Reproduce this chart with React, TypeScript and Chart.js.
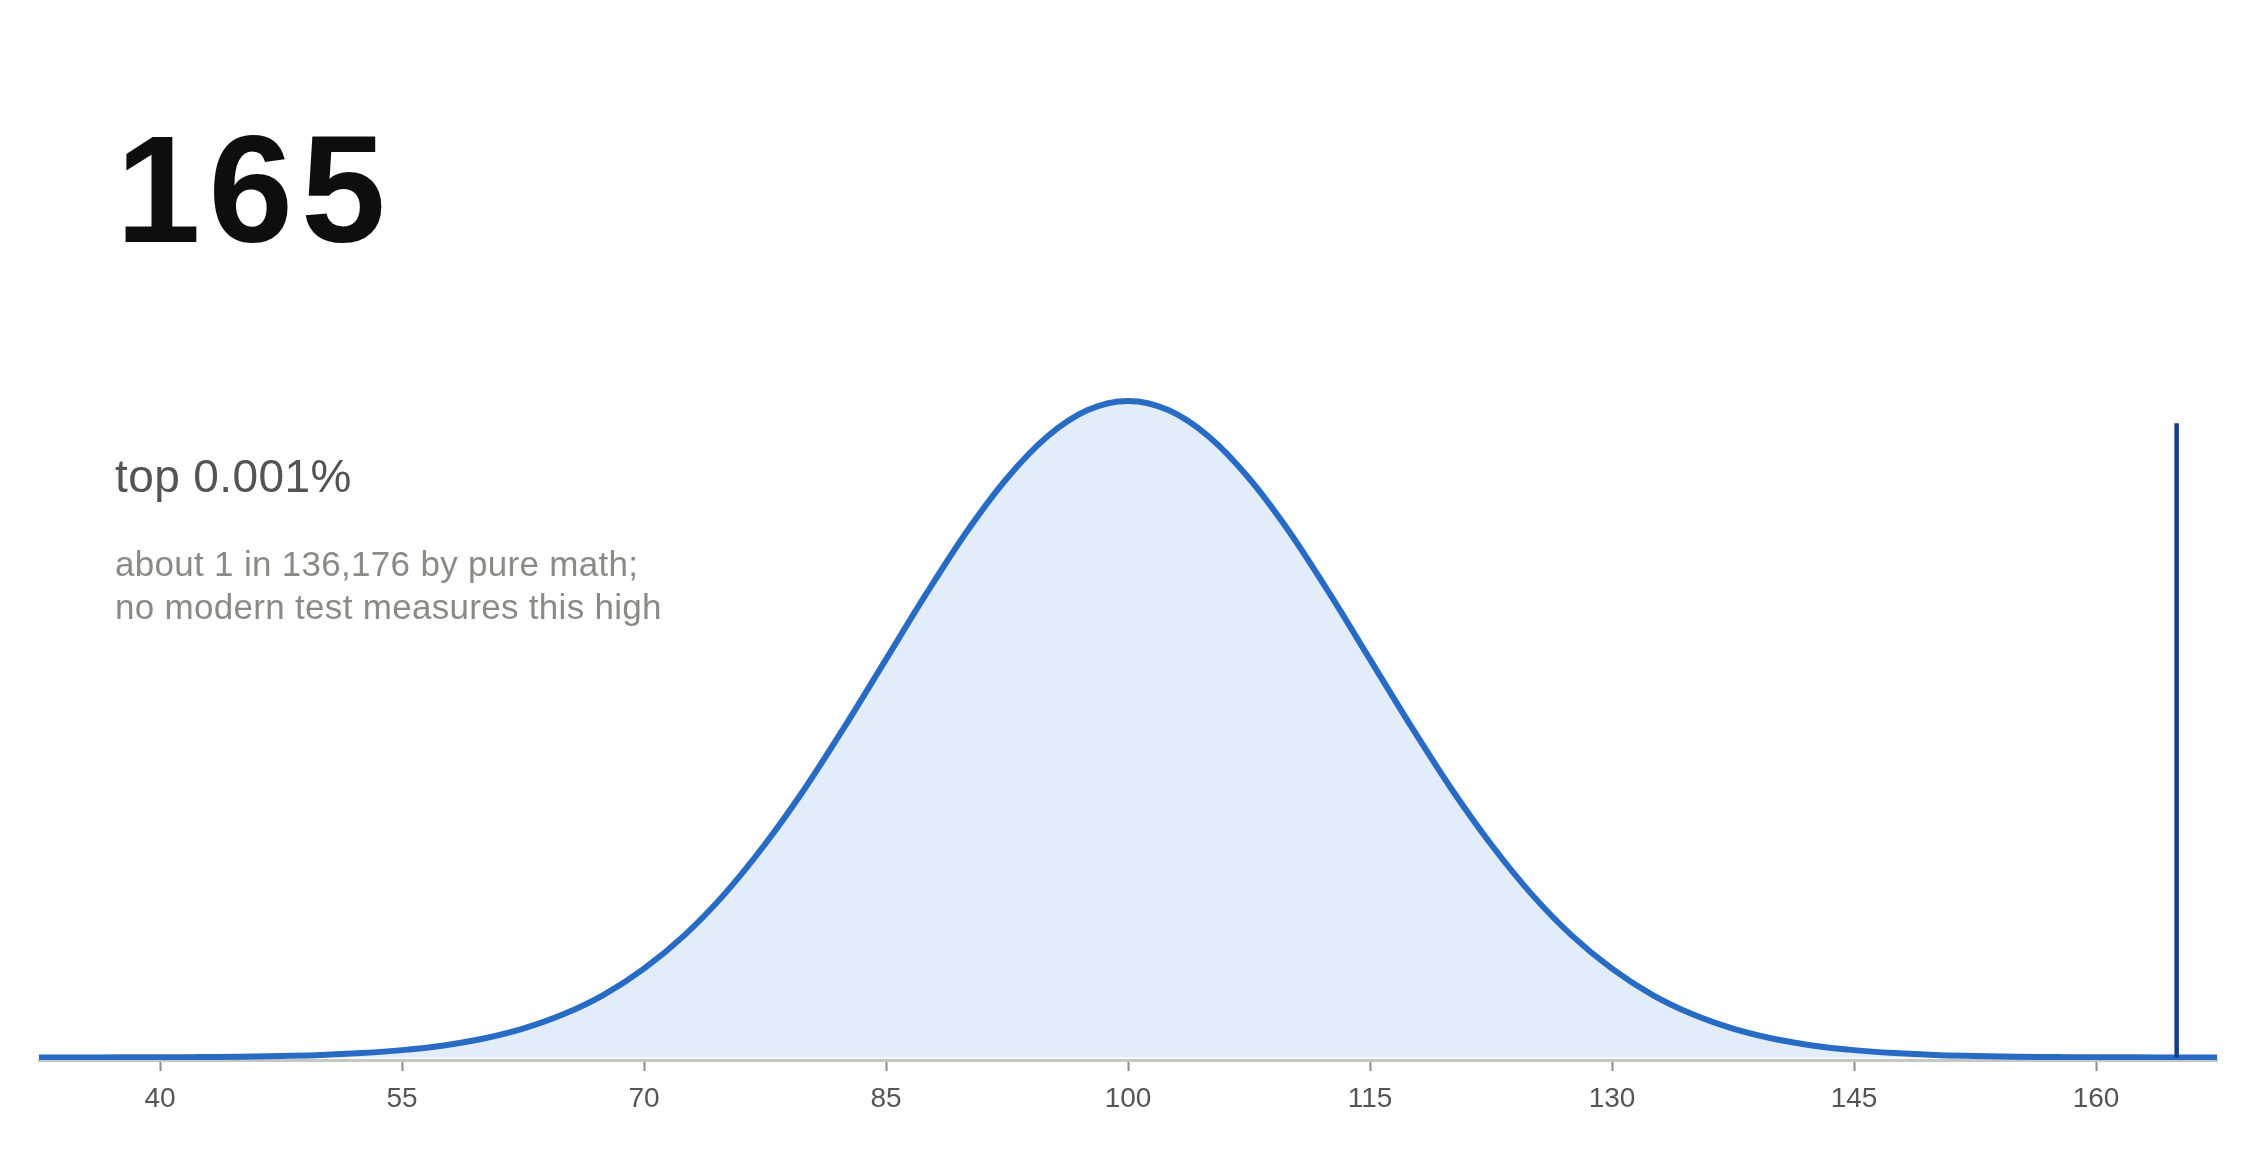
import React, { useEffect, useRef } from "react";
import { Chart, registerables } from "chart.js";

Chart.register(...registerables);

// ---- data ----
const SCORE = "165";
const PERCENTILE = "top 0.001%";
const NOTE_LINES = ["about 1 in 136,176 by pure math;", "no modern test measures this high"];

const IQ_X = [
  32.5, 35, 37.5, 40, 42.5, 45, 47.5, 50, 52.5, 55, 57.5, 60, 62.5, 65, 67.5, 70, 72.5, 75, 77.5, 80,
  82.5, 85, 87.5, 90, 92.5, 95, 97.5, 100, 102.5, 105, 107.5, 110, 112.5, 115, 117.5, 120, 122.5, 125,
  127.5, 130, 132.5, 135, 137.5, 140, 142.5, 145, 147.5, 150, 152.5, 155, 157.5, 160, 162.5, 165, 167.5,
];
const CURVE_HEIGHT = [
  0.0, 0.0, 0.01, 0.01, 0.02, 0.03, 0.06, 0.1, 0.18, 0.3, 0.48, 0.76, 1.17, 1.75, 2.54, 3.6, 4.95, 6.63,
  8.64, 10.93, 13.47, 16.13, 18.79, 21.3, 23.47, 25.16, 26.23, 26.6, 26.23, 25.16, 23.47, 21.3, 18.79,
  16.13, 13.47, 10.93, 8.64, 6.63, 4.95, 3.6, 2.54, 1.75, 1.17, 0.76, 0.48, 0.3, 0.18, 0.1, 0.06, 0.03,
  0.02, 0.01, 0.01, 0.0, 0.0,
];
const TICK_VALUES = [40, 55, 70, 85, 100, 115, 130, 145, 160];
const MARKER_X = [165, 165];
const MARKER_Y = [0, 25.7];

const X_MIN = 32.5;
const X_MAX = 167.5;

export default function App() {
  const canvasRef = useRef<HTMLCanvasElement | null>(null);

  useEffect(() => {
    if (!canvasRef.current) return;
    const chart = new Chart(canvasRef.current, {
      type: "line",
      data: {
        datasets: [
          {
            label: "marker",
            data: MARKER_X.map((x, i) => ({ x, y: MARKER_Y[i] })),
            borderColor: "#0f4184",
            borderWidth: 4.5,
            pointRadius: 0,
            fill: false,
            order: 0,
          },
          {
            label: "distribution",
            data: IQ_X.map((x, i) => ({ x, y: CURVE_HEIGHT[i] })),
            borderColor: "#286bc4",
            backgroundColor: "#e3edf9",
            borderWidth: 6,
            pointRadius: 0,
            fill: "origin",
            cubicInterpolationMode: "monotone",
            order: 1,
          },
        ],
      },
      options: {
        animation: false,
        responsive: true,
        maintainAspectRatio: false,
        layout: { padding: { left: 39, right: 39, top: 317, bottom: 0 } },
        plugins: { legend: { display: false }, tooltip: { enabled: false } },
        scales: {
          x: {
            type: "linear",
            min: X_MIN,
            max: X_MAX,
            z: 1,
            afterBuildTicks: (axis: any) => {
              axis.ticks = TICK_VALUES.map((v) => ({ value: v }));
            },
            afterFit: (axis: any) => {
              axis.height = 92;
            },
            border: { display: true, color: "#c6c6c2", width: 3 },
            grid: {
              drawOnChartArea: false,
              drawTicks: true,
              tickLength: 11,
              tickWidth: 2,
              tickColor: "#8c8c8a",
            },
            ticks: {
              color: "#555555",
              font: { family: "'Liberation Sans', Arial, Helvetica, sans-serif", size: 28 },
              padding: 11,
              maxRotation: 0,
              autoSkip: false,
            },
          },
          y: {
            display: false,
            min: -0.1,
            max: 30,
          },
        },
      },
    });
    return () => chart.destroy();
  }, []);

  const font = "'Liberation Sans', Arial, Helvetica, sans-serif";

  return (
    <div
      style={{
        position: "fixed",
        left: 0,
        top: 0,
        width: 2256,
        height: 1152,
        background: "#ffffff",
        overflow: "hidden",
      }}
    >
      <canvas ref={canvasRef} />
      <div
        style={{
          position: "absolute",
          left: 116,
          top: 113,
          fontFamily: font,
          fontWeight: 700,
          fontSize: 152,
          lineHeight: "152px",
          letterSpacing: 8,
          color: "#0e0e0e",
          whiteSpace: "nowrap",
        }}
      >
        {SCORE}
      </div>
      <div
        style={{
          position: "absolute",
          left: 115,
          top: 453,
          fontFamily: font,
          fontSize: 46,
          lineHeight: "46px",
          letterSpacing: 0.4,
          color: "#545451",
          whiteSpace: "nowrap",
        }}
      >
        {PERCENTILE}
      </div>
      <div
        style={{
          position: "absolute",
          left: 115,
          top: 542,
          fontFamily: font,
          fontSize: 35,
          lineHeight: "43px",
          letterSpacing: 0.3,
          color: "#8b8b86",
          whiteSpace: "nowrap",
        }}
      >
        {NOTE_LINES.map((l) => (
          <div key={l}>{l}</div>
        ))}
      </div>
    </div>
  );
}
